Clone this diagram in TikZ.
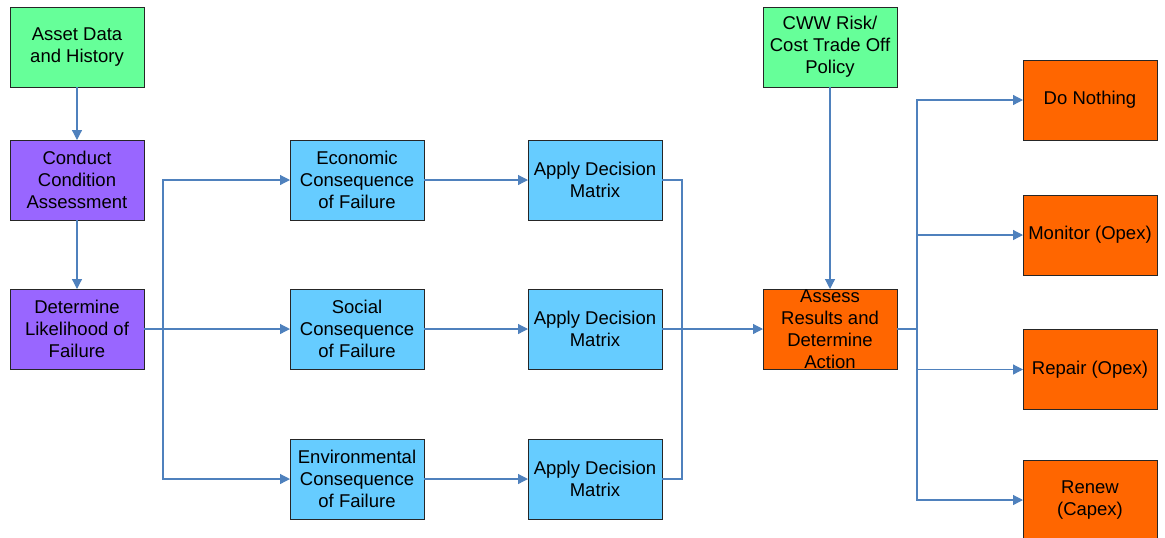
\documentclass[tikz,border=0pt]{standalone}
\usepackage{fontspec}
\setmainfont{Liberation Sans}
\usetikzlibrary{arrows.meta}
\definecolor{flowline}{HTML}{4F81BD}
\definecolor{boxgreen}{HTML}{66FF99}
\definecolor{boxpurple}{HTML}{9966FF}
\definecolor{boxblue}{HTML}{66CCFF}
\definecolor{boxorange}{HTML}{FF6600}
\tikzset{
  box/.style={draw=black!85, line width=0.5pt, minimum width=67pt, minimum height=40pt,
    inner sep=0pt, outer sep=0pt, align=center,
    font=\fontsize{9.25pt}{11pt}\selectfont},
  inputbox/.style={box, fill=boxgreen},
  stepbox/.style={box, fill=boxpurple},
  conbox/.style={box, fill=boxblue},
  actbox/.style={box, fill=boxorange},
  link/.style={draw=flowline, line width=0.6pt},
  flow/.style={link, -{Triangle[length=5pt,width=5pt]}}
}
\begin{document}
\begin{tikzpicture}[x=0.5pt, y=-0.5pt]
\useasboundingbox (0,0) rectangle (1165,537);

% left column
\node[inputbox] (asset) at (77,47) {Asset Data\\and History};
\node[stepbox] (cond) at (77,180) {Conduct\\Condition\\Assessment};
\node[stepbox] (like) at (77,329) {Determine\\Likelihood of\\Failure};

% consequences
\node[conbox] (econ) at (357,180) {Economic\\Consequence\\of Failure};
\node[conbox] (soc) at (357,329) {Social\\Consequence\\of Failure};
\node[conbox] (env) at (357,479) {Environmental\\Consequence\\of Failure};

% decision matrices
\node[conbox] (dm1) at (595,180) {Apply Decision\\Matrix};
\node[conbox] (dm2) at (595,329) {Apply Decision\\Matrix};
\node[conbox] (dm3) at (595,479) {Apply Decision\\Matrix};

% policy and assessment
\node[inputbox] (cww) at (830,47) {CWW Risk/\\Cost Trade Off\\Policy};
\node[actbox] (assess) at (830,329) {Assess\\Results and\\Determine\\Action};

% actions
\node[actbox] (none) at (1090,100) {Do Nothing};
\node[actbox] (mon) at (1090,235) {Monitor (Opex)};
\node[actbox] (rep) at (1090,369.5) {Repair (Opex)};
\node[actbox] (ren) at (1090,500) {Renew\\(Capex)};

% junction points
\coordinate (split) at (163,329);
\coordinate (join) at (682,329);
\coordinate (fan) at (917,329);

% connectors
\draw[flow] (asset) -- (cond);
\draw[flow] (cond) -- (like);
\draw[flow] (like.east) -- (soc.west);
\draw[flow] (split) |- (econ.west);
\draw[flow] (split) |- (env.west);
\draw[flow] (econ) -- (dm1);
\draw[flow] (soc) -- (dm2);
\draw[flow] (env) -- (dm3);
\draw[link] (dm1.east) -| (join);
\draw[link] (dm3.east) -| (join);
\draw[flow] (dm2.east) -- (assess.west);
\draw[flow] (cww) -- (assess);
\draw[link] (assess.east) -- (fan);
\draw[flow] (fan) |- (none.west);
\draw[flow] (fan) |- (mon.west);
\draw[flow] (fan) |- (rep.west);
\draw[flow] (fan) |- (ren.west);
\end{tikzpicture}
\end{document}
